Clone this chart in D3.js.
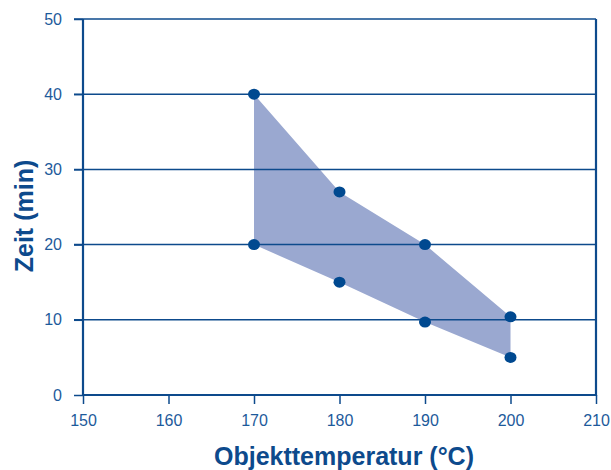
<!DOCTYPE html>
<meta charset="utf-8">
<style type="text/css">
    body {
        margin: 0;
        background: #fff;
    }
    text {
        font-family: "Liberation Sans", Arial, sans-serif;
    }
    svg {
        display: block;
    }
</style>
<body>
<script src="https://cdn.jsdelivr.net/npm/d3@7/dist/d3.min.js"></script>
<script>
// Data: upper and lower edge of the band
var temps = [170, 180, 190, 200];
var upper = [40, 27, 20, 10.4];
var lower = [20, 15, 9.7, 5];
var xTicks = [150, 160, 170, 180, 190, 200, 210];
var yTicks = [0, 10, 20, 30, 40, 50];

var margin = {top: 19, right: 15, bottom: 75, left: 83},
    width  = 611 - margin.left - margin.right,
    height = 470 - margin.top - margin.bottom;

var axisColor = "#0d4a8c",
    textColor = "#1d5a9b",
    dotColor = "#004990",
    fillColor = "#9aa8d0";

var svg = d3.select("body")
    .append("svg")
    .attr("width", 611)
    .attr("height", 470);

var chart = svg.append("g")
    .attr("transform", "translate(" + margin.left + "," + margin.top + ")");

var x = d3.scaleLinear().domain([150, 210]).range([0, width]);
var y = d3.scaleLinear().domain([0, 50]).range([height, 0]);

// Band polygon: upper edge left to right, lower edge right to left
var pts = temps.map(function(t, i) { return [t, upper[i]]; })
    .concat(temps.map(function(t, i) { return [t, lower[i]]; }).reverse());

chart.append("path")
    .datum(pts)
    .attr("d", d3.line().x(function(d) { return x(d[0]); }).y(function(d) { return y(d[1]); }).curve(d3.curveLinearClosed))
    .attr("fill", fillColor);

// Horizontal gridlines with ticks out to the left
chart.selectAll("line.grid")
    .data(yTicks.slice(1))
    .enter().append("line")
    .attr("class", "grid")
    .attr("x1", -9)
    .attr("x2", width)
    .attr("y1", function(d) { return y(d); })
    .attr("y2", function(d) { return y(d); })
    .attr("stroke", axisColor)
    .attr("stroke-width", 1.5);

// Y axis
var yAxis = chart.append("g")
    .call(d3.axisLeft(y).tickValues(yTicks).tickSize(9).tickPadding(12));
yAxis.select(".domain").remove();
yAxis.selectAll("line").attr("stroke", axisColor).attr("stroke-width", 1.5);
yAxis.selectAll("text")
    .attr("fill", textColor)
    .style("font-size", "16px");

// X axis
var xAxis = chart.append("g")
    .attr("transform", "translate(0," + height + ")")
    .call(d3.axisBottom(x).tickValues(xTicks).tickSize(9).tickPadding(11));
xAxis.select(".domain").remove();
xAxis.selectAll("line").attr("stroke", axisColor).attr("stroke-width", 1.5);
xAxis.selectAll("text")
    .attr("fill", textColor)
    .style("font-size", "16px");

// Frame: left, bottom, right
chart.append("path")
    .attr("d", "M0,0V" + height + "H" + width + "V0")
    .attr("fill", "none")
    .attr("stroke", axisColor)
    .attr("stroke-width", 2.2);

// Dots
chart.selectAll("ellipse")
    .data(pts)
    .enter().append("ellipse")
    .attr("cx", function(d) { return x(d[0]); })
    .attr("cy", function(d) { return y(d[1]); })
    .attr("rx", 6)
    .attr("ry", 5.5)
    .attr("fill", dotColor);

// Axis titles
svg.append("text")
    .attr("x", 344)
    .attr("y", 465)
    .attr("text-anchor", "middle")
    .attr("fill", axisColor)
    .style("font-size", "25px")
    .style("font-weight", "bold")
    .text("Objekttemperatur (°C)");

svg.append("text")
    .attr("transform", "translate(33," + 216 + ") rotate(-90)")
    .attr("text-anchor", "middle")
    .attr("fill", axisColor)
    .style("font-size", "25px")
    .style("font-weight", "bold")
    .text("Zeit (min)");
</script>
</body>
